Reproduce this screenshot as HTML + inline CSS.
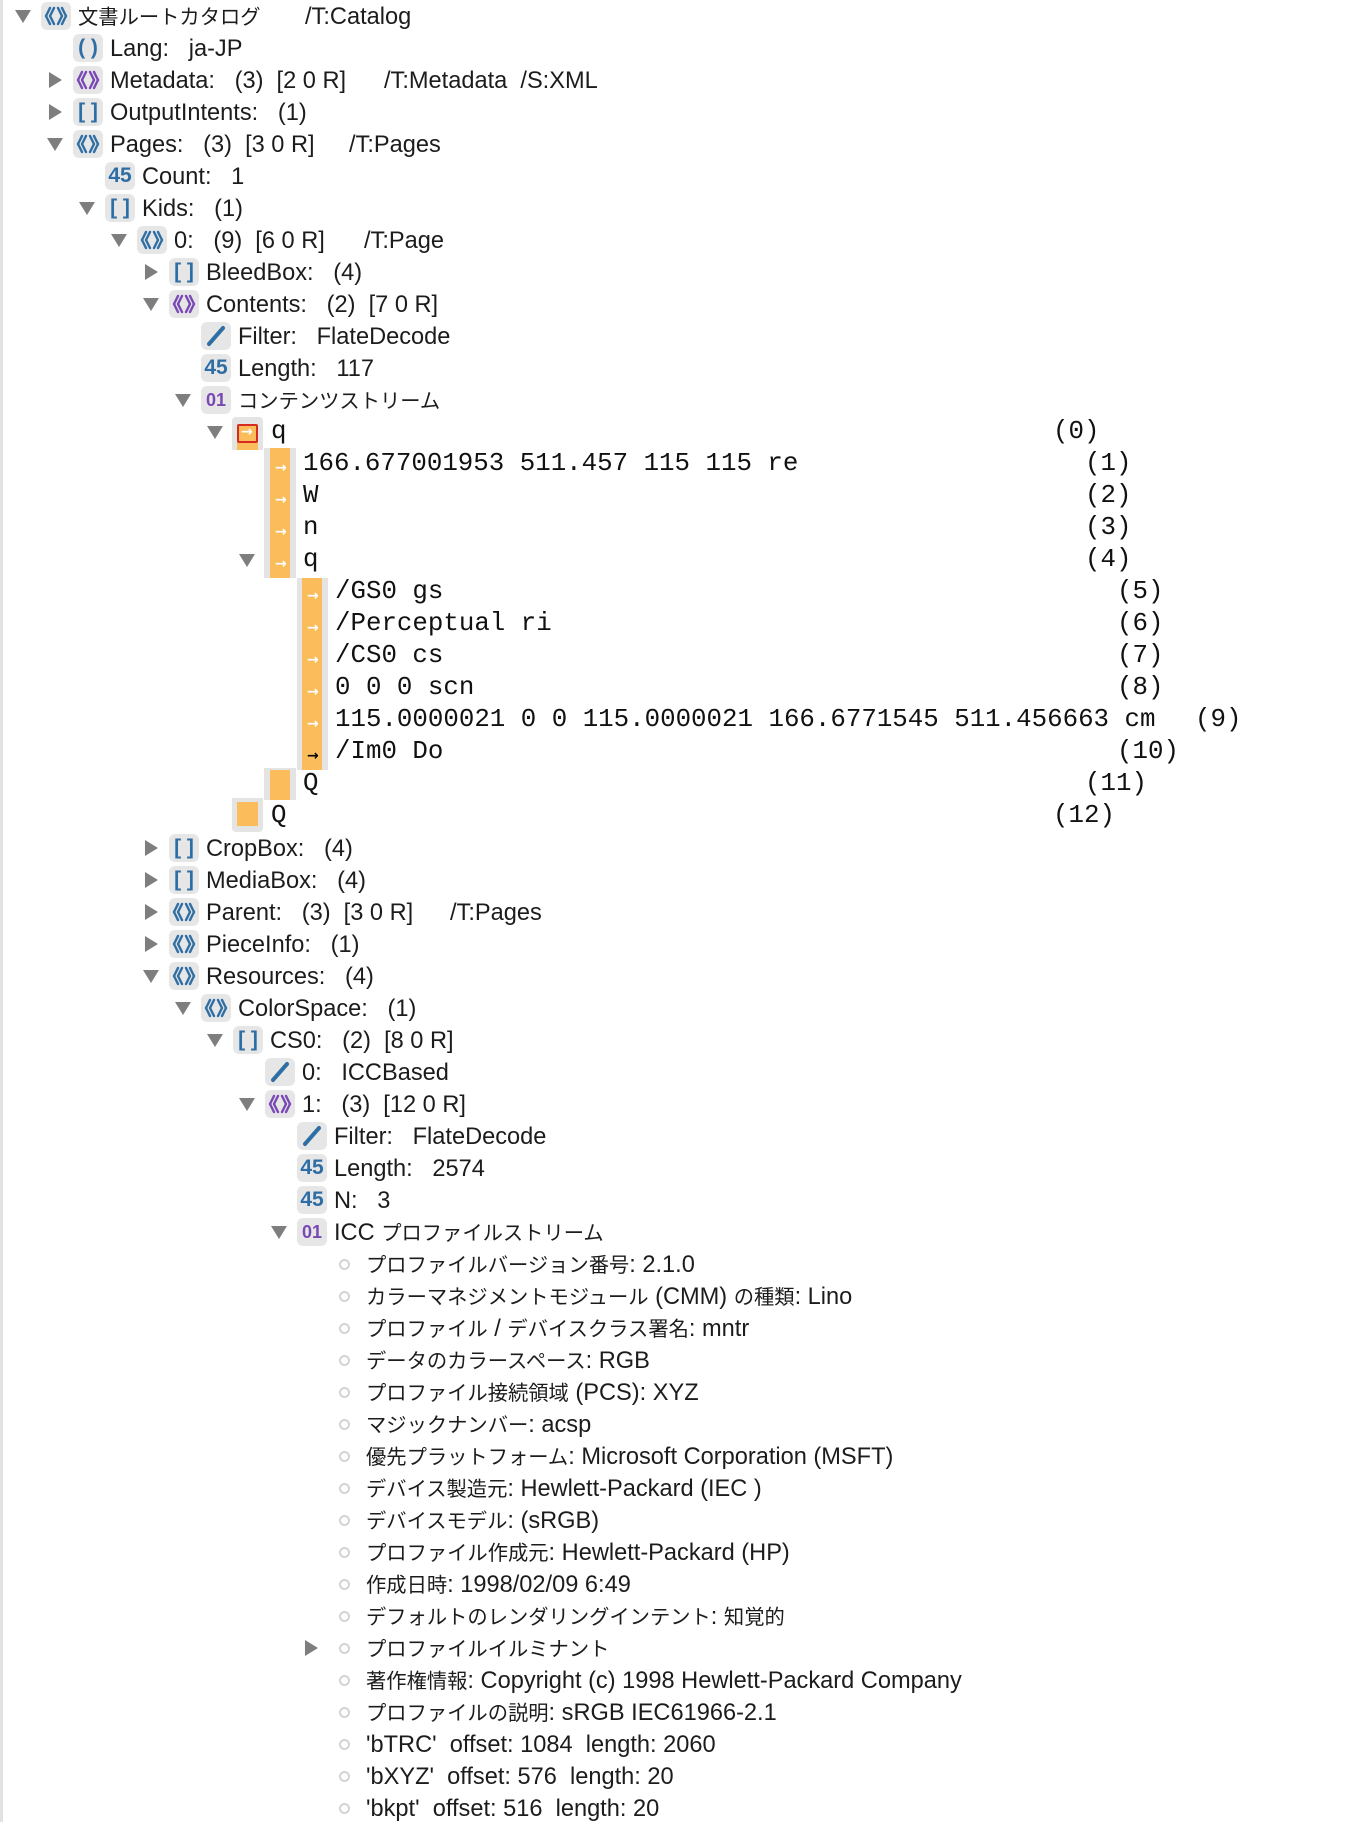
<!DOCTYPE html>
<html><head><meta charset="utf-8">
<style>
html,body{margin:0;padding:0;background:#fff;}
body{width:1356px;height:1822px;position:relative;overflow:hidden;font-family:"Liberation Sans","Noto Sans CJK JP",sans-serif;color:#1c1c1c;}
.r{position:absolute;left:0;width:1356px;height:32px;}
.td{position:absolute;top:10px;width:0;height:0;border-left:8px solid transparent;border-right:8px solid transparent;border-top:13px solid #7e7e7e;}
.tr{position:absolute;top:8px;width:0;height:0;border-top:8px solid transparent;border-bottom:8px solid transparent;border-left:13px solid #7e7e7e;}
.ic{position:absolute;top:2px;width:30px;height:28px;background:#e6e6e6;border-radius:6px;text-align:center;line-height:28px;font-weight:bold;font-size:21px;}
.b{color:#2f6ea5}.p{color:#7a48b5}
.ic svg{position:absolute;left:3px;top:3px;}
.t{position:absolute;top:1px;line-height:32px;font-size:23.6px;white-space:pre;}
.j{font-size:20.3px;}
.m{position:absolute;top:0;line-height:32px;font-family:"Liberation Mono",monospace;font-size:25.8px;white-space:pre;color:#111;}
.bul{position:absolute;left:339px;top:11px;width:7px;height:7px;border:2px solid #d4d4d4;border-radius:50%;}
.g{position:absolute;background:#e4e4e4;}
.o{position:absolute;background:#fbbd5c;}
.ar{position:absolute;color:#fff;font-size:14px;font-weight:bold;line-height:14px;font-family:"DejaVu Sans",sans-serif;}
</style></head><body>
<svg width="0" height="0" style="position:absolute">
<defs>
<symbol id="dict" viewBox="0 0 24 22"><g fill="none" stroke="currentColor" stroke-width="2.4" stroke-linecap="round" stroke-linejoin="round"><path d="M6 3 L2 11 L6 19"/><path d="M10 3 L6 11 L10 19"/><path d="M14 3 L18 11 L14 19"/><path d="M18 3 L22 11 L18 19"/></g></symbol>
<symbol id="sl" viewBox="0 0 24 22"><path d="M5 19 L19 3" stroke="currentColor" stroke-width="4" stroke-linecap="round"/></symbol>
</defs></svg>
<div style="position:absolute;left:0;top:0;width:3px;height:1822px;background:#e2e2e2"></div>

<div class="r" style="top:0"><div class="td" style="left:15px"></div><div class="ic b" style="left:41px"><svg width="24" height="22" class="b"><use href="#dict"/></svg></div><div class="t" style="left:78px"><span class="j">文書ルートカタログ</span></div><div class="t" style="left:305px">/T:Catalog</div></div>
<div class="r" style="top:32px"><div class="ic b" style="left:73px">( )</div><div class="t" style="left:110px">Lang:   ja-JP</div></div>
<div class="r" style="top:64px"><div class="tr" style="left:49px"></div><div class="ic p" style="left:73px"><svg width="24" height="22" class="p"><use href="#dict"/></svg></div><div class="t" style="left:110px">Metadata:   (3)  [2 0 R]</div><div class="t" style="left:384px">/T:Metadata  /S:XML</div></div>
<div class="r" style="top:96px"><div class="tr" style="left:49px"></div><div class="ic b" style="left:73px">[ ]</div><div class="t" style="left:110px">OutputIntents:   (1)</div></div>
<div class="r" style="top:128px"><div class="td" style="left:47px"></div><div class="ic b" style="left:73px"><svg width="24" height="22" class="b"><use href="#dict"/></svg></div><div class="t" style="left:110px">Pages:   (3)  [3 0 R]</div><div class="t" style="left:349px">/T:Pages</div></div>
<div class="r" style="top:160px"><div class="ic b" style="left:105px">45</div><div class="t" style="left:142px">Count:   1</div></div>
<div class="r" style="top:192px"><div class="td" style="left:79px"></div><div class="ic b" style="left:105px">[ ]</div><div class="t" style="left:142px">Kids:   (1)</div></div>
<div class="r" style="top:224px"><div class="td" style="left:111px"></div><div class="ic b" style="left:137px"><svg width="24" height="22" class="b"><use href="#dict"/></svg></div><div class="t" style="left:174px">0:   (9)  [6 0 R]</div><div class="t" style="left:364px">/T:Page</div></div>
<div class="r" style="top:256px"><div class="tr" style="left:145px"></div><div class="ic b" style="left:169px">[ ]</div><div class="t" style="left:206px">BleedBox:   (4)</div></div>
<div class="r" style="top:288px"><div class="td" style="left:143px"></div><div class="ic p" style="left:169px"><svg width="24" height="22" class="p"><use href="#dict"/></svg></div><div class="t" style="left:206px">Contents:   (2)  [7 0 R]</div></div>
<div class="r" style="top:320px"><div class="ic b" style="left:201px"><svg width="24" height="22" class="b"><use href="#sl"/></svg></div><div class="t" style="left:238px">Filter:   FlateDecode</div></div>
<div class="r" style="top:352px"><div class="ic b" style="left:201px">45</div><div class="t" style="left:238px">Length:   117</div></div>
<div class="r" style="top:384px"><div class="td" style="left:175px"></div><div class="ic p" style="left:201px;font-size:18px">01</div><div class="t" style="left:238px"><span class="j">コンテンツストリーム</span></div></div>

<div class="g" style="left:232px;top:417px;width:31px;height:33px;border-radius:4px 4px 0 0"></div>
<div class="o" style="left:237px;top:440px;width:21px;height:10px"></div>
<div class="o" style="left:237px;top:424px;width:17px;height:15px;border:2px solid #d62b1f;border-radius:2px"></div>
<div class="ar" style="left:241px;top:425px">→</div>
<div class="g" style="left:264px;top:448px;width:32px;height:130px"></div>
<div class="o" style="left:270px;top:448px;width:20px;height:130px"></div>
<div class="g" style="left:297px;top:578px;width:31px;height:192px"></div>
<div class="o" style="left:302px;top:578px;width:20px;height:192px"></div>
<div class="g" style="left:264px;top:768px;width:32px;height:32px"></div>
<div class="o" style="left:270px;top:770px;width:20px;height:30px"></div>
<div class="g" style="left:232px;top:798px;width:31px;height:34px;border-radius:0 0 4px 4px"></div>
<div class="o" style="left:237px;top:802px;width:21px;height:24px"></div>
<div class="ar" style="left:275px;top:461px">→</div>
<div class="ar" style="left:275px;top:493px">→</div>
<div class="ar" style="left:275px;top:525px">→</div>
<div class="ar" style="left:275px;top:557px">→</div>
<div class="ar" style="left:307px;top:589px">→</div>
<div class="ar" style="left:307px;top:621px">→</div>
<div class="ar" style="left:307px;top:653px">→</div>
<div class="ar" style="left:307px;top:685px">→</div>
<div class="ar" style="left:307px;top:717px">→</div>
<div class="ar" style="left:307px;top:749px;color:#000">→</div>

<div class="r" style="top:416px"><div class="td" style="left:207px"></div><div class="m" style="left:271px">q</div><div class="m" style="left:1053px">(0)</div></div>
<div class="r" style="top:448px"><div class="m" style="left:303px">166.677001953 511.457 115 115 re</div><div class="m" style="left:1085px">(1)</div></div>
<div class="r" style="top:480px"><div class="m" style="left:303px">W</div><div class="m" style="left:1085px">(2)</div></div>
<div class="r" style="top:512px"><div class="m" style="left:303px">n</div><div class="m" style="left:1085px">(3)</div></div>
<div class="r" style="top:544px"><div class="td" style="left:239px"></div><div class="m" style="left:303px">q</div><div class="m" style="left:1085px">(4)</div></div>
<div class="r" style="top:576px"><div class="m" style="left:335px">/GS0 gs</div><div class="m" style="left:1117px">(5)</div></div>
<div class="r" style="top:608px"><div class="m" style="left:335px">/Perceptual ri</div><div class="m" style="left:1117px">(6)</div></div>
<div class="r" style="top:640px"><div class="m" style="left:335px">/CS0 cs</div><div class="m" style="left:1117px">(7)</div></div>
<div class="r" style="top:672px"><div class="m" style="left:335px">0 0 0 scn</div><div class="m" style="left:1117px">(8)</div></div>
<div class="r" style="top:704px"><div class="m" style="left:335px">115.0000021 0 0 115.0000021 166.6771545 511.456663 cm</div><div class="m" style="left:1195px">(9)</div></div>
<div class="r" style="top:736px"><div class="m" style="left:335px">/Im0 Do</div><div class="m" style="left:1117px">(10)</div></div>
<div class="r" style="top:768px"><div class="m" style="left:303px">Q</div><div class="m" style="left:1085px">(11)</div></div>
<div class="r" style="top:800px"><div class="m" style="left:271px">Q</div><div class="m" style="left:1053px">(12)</div></div>

<div class="r" style="top:832px"><div class="tr" style="left:145px"></div><div class="ic b" style="left:169px">[ ]</div><div class="t" style="left:206px">CropBox:   (4)</div></div>
<div class="r" style="top:864px"><div class="tr" style="left:145px"></div><div class="ic b" style="left:169px">[ ]</div><div class="t" style="left:206px">MediaBox:   (4)</div></div>
<div class="r" style="top:896px"><div class="tr" style="left:145px"></div><div class="ic b" style="left:169px"><svg width="24" height="22" class="b"><use href="#dict"/></svg></div><div class="t" style="left:206px">Parent:   (3)  [3 0 R]</div><div class="t" style="left:450px">/T:Pages</div></div>
<div class="r" style="top:928px"><div class="tr" style="left:145px"></div><div class="ic b" style="left:169px"><svg width="24" height="22" class="b"><use href="#dict"/></svg></div><div class="t" style="left:206px">PieceInfo:   (1)</div></div>
<div class="r" style="top:960px"><div class="td" style="left:143px"></div><div class="ic b" style="left:169px"><svg width="24" height="22" class="b"><use href="#dict"/></svg></div><div class="t" style="left:206px">Resources:   (4)</div></div>
<div class="r" style="top:992px"><div class="td" style="left:175px"></div><div class="ic b" style="left:201px"><svg width="24" height="22" class="b"><use href="#dict"/></svg></div><div class="t" style="left:238px">ColorSpace:   (1)</div></div>
<div class="r" style="top:1024px"><div class="td" style="left:207px"></div><div class="ic b" style="left:233px">[ ]</div><div class="t" style="left:270px">CS0:   (2)  [8 0 R]</div></div>
<div class="r" style="top:1056px"><div class="ic b" style="left:265px"><svg width="24" height="22" class="b"><use href="#sl"/></svg></div><div class="t" style="left:302px">0:   ICCBased</div></div>
<div class="r" style="top:1088px"><div class="td" style="left:239px"></div><div class="ic p" style="left:265px"><svg width="24" height="22" class="p"><use href="#dict"/></svg></div><div class="t" style="left:302px">1:   (3)  [12 0 R]</div></div>
<div class="r" style="top:1120px"><div class="ic b" style="left:297px"><svg width="24" height="22" class="b"><use href="#sl"/></svg></div><div class="t" style="left:334px">Filter:   FlateDecode</div></div>
<div class="r" style="top:1152px"><div class="ic b" style="left:297px">45</div><div class="t" style="left:334px">Length:   2574</div></div>
<div class="r" style="top:1184px"><div class="ic b" style="left:297px">45</div><div class="t" style="left:334px">N:   3</div></div>
<div class="r" style="top:1216px"><div class="td" style="left:271px"></div><div class="ic p" style="left:297px;font-size:18px">01</div><div class="t" style="left:334px">ICC <span class="j">プロファイルストリーム</span></div></div>

<div class="r" style="top:1248px"><div class="bul"></div><div class="t" style="left:366px"><span class="j">プロファイルバージョン番号</span>: 2.1.0</div></div>
<div class="r" style="top:1280px"><div class="bul"></div><div class="t" style="left:366px"><span class="j">カラーマネジメントモジュール</span> (CMM) <span class="j">の種類</span>: Lino</div></div>
<div class="r" style="top:1312px"><div class="bul"></div><div class="t" style="left:366px"><span class="j">プロファイル</span> / <span class="j">デバイスクラス署名</span>: mntr</div></div>
<div class="r" style="top:1344px"><div class="bul"></div><div class="t" style="left:366px"><span class="j">データのカラースペース</span>: RGB</div></div>
<div class="r" style="top:1376px"><div class="bul"></div><div class="t" style="left:366px"><span class="j">プロファイル接続領域</span> (PCS): XYZ</div></div>
<div class="r" style="top:1408px"><div class="bul"></div><div class="t" style="left:366px"><span class="j">マジックナンバー</span>: acsp</div></div>
<div class="r" style="top:1440px"><div class="bul"></div><div class="t" style="left:366px"><span class="j">優先プラットフォーム</span>: Microsoft Corporation (MSFT)</div></div>
<div class="r" style="top:1472px"><div class="bul"></div><div class="t" style="left:366px"><span class="j">デバイス製造元</span>: Hewlett-Packard (IEC )</div></div>
<div class="r" style="top:1504px"><div class="bul"></div><div class="t" style="left:366px"><span class="j">デバイスモデル</span>: (sRGB)</div></div>
<div class="r" style="top:1536px"><div class="bul"></div><div class="t" style="left:366px"><span class="j">プロファイル作成元</span>: Hewlett-Packard (HP)</div></div>
<div class="r" style="top:1568px"><div class="bul"></div><div class="t" style="left:366px"><span class="j">作成日時</span>: 1998/02/09 6:49</div></div>
<div class="r" style="top:1600px"><div class="bul"></div><div class="t" style="left:366px"><span class="j">デフォルトのレンダリングインテント</span>: <span class="j">知覚的</span></div></div>
<div class="r" style="top:1632px"><div class="tr" style="left:305px"></div><div class="bul"></div><div class="t" style="left:366px"><span class="j">プロファイルイルミナント</span></div></div>
<div class="r" style="top:1664px"><div class="bul"></div><div class="t" style="left:366px"><span class="j">著作権情報</span>: Copyright (c) 1998 Hewlett-Packard Company</div></div>
<div class="r" style="top:1696px"><div class="bul"></div><div class="t" style="left:366px"><span class="j">プロファイルの説明</span>: sRGB IEC61966-2.1</div></div>
<div class="r" style="top:1728px"><div class="bul"></div><div class="t" style="left:366px">'bTRC'  offset: 1084  length: 2060</div></div>
<div class="r" style="top:1760px"><div class="bul"></div><div class="t" style="left:366px">'bXYZ'  offset: 576  length: 20</div></div>
<div class="r" style="top:1792px"><div class="bul"></div><div class="t" style="left:366px">'bkpt'  offset: 516  length: 20</div></div>
</body></html>
